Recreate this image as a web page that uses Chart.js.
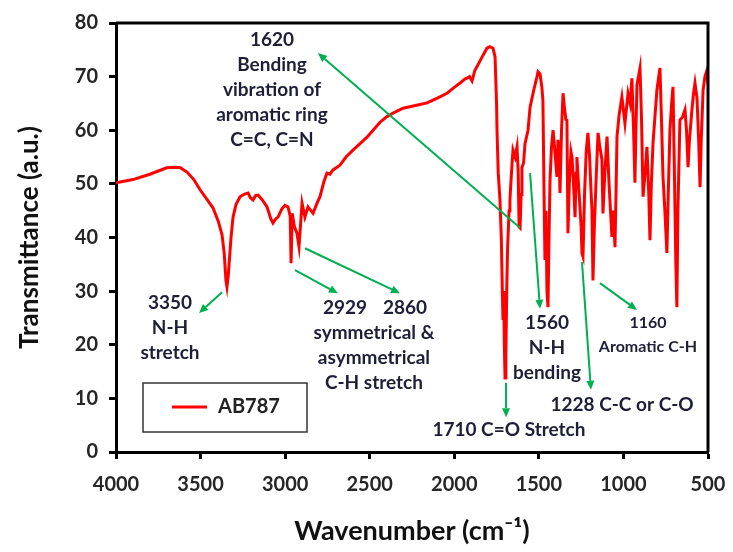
<!DOCTYPE html>
<html>
<head>
<meta charset="utf-8">
<script src="https://cdn.jsdelivr.net/npm/chart.js@4.4.1/dist/chart.umd.min.js"></script>
<style>
  html, body { margin: 0; padding: 0; background: #fff; }
</style>
</head>
<body>
<canvas id="ir" width="733" height="552"></canvas>
<script>
// FTIR spectrum of AB787
const seriesName = 'AB787';
const wavenumbers = [
  4000, 3900, 3800, 3700, 3650, 3620, 3580, 3540, 3503, 3460, 3426, 3395, 3373, 3360, 3350, 3344, 3336, 3320, 3308, 3290,
  3267, 3240, 3219, 3205, 3190, 3175, 3160, 3135, 3107, 3085, 3072, 3055, 3042, 3020, 3001, 2983, 2970, 2965, 2958, 2945,
  2930, 2918, 2900, 2883, 2865, 2835, 2810, 2794, 2770, 2753, 2735, 2717, 2676, 2640, 2599, 2557, 2516, 2480, 2439, 2400,
  2362, 2303, 2230, 2161, 2100, 2043, 2000, 1966, 1940, 1925, 1910, 1895, 1878, 1850, 1830, 1807, 1790, 1771, 1759, 1750,
  1747, 1740, 1730, 1722, 1716, 1712, 1708, 1704, 1700, 1695, 1690, 1685, 1676, 1671, 1662, 1653, 1640, 1629, 1622, 1617,
  1611, 1605, 1600, 1590, 1582, 1564, 1552, 1530, 1511, 1505, 1493, 1482, 1476, 1470, 1464, 1458, 1452, 1446, 1440, 1434,
  1425, 1416, 1405, 1393, 1387, 1381, 1375, 1366, 1357, 1348, 1340, 1334, 1328, 1320, 1310, 1304, 1295, 1286, 1280, 1275,
  1266, 1257, 1250, 1245, 1239, 1230, 1220, 1210, 1200, 1192, 1186, 1180, 1172, 1160, 1150, 1140, 1127, 1121, 1110, 1097,
  1085, 1068, 1060, 1050, 1044, 1038, 1025, 1009, 991, 973, 960, 950, 940, 932, 926, 920, 902, 893, 884, 872,
  861, 850, 843, 835, 825, 815, 802, 784, 775, 766, 755, 743, 735, 725, 715, 707, 700, 690, 684, 678,
  666, 650, 636, 627, 618, 610, 595, 585, 577, 565, 555, 547, 540, 529, 518, 506, 500
];
const transmittance = [
  50.2, 50.8, 51.8, 53.0, 53.1, 53.0, 52.2, 50.8, 48.9, 47.0, 45.5, 43.0, 40.5, 37.0, 32.0, 30.8, 33.0, 40.0, 43.8, 46.2,
  47.6, 48.1, 48.3, 47.4, 47.0, 47.8, 47.9, 47.0, 45.7, 43.5, 42.7, 43.5, 43.8, 45.3, 46.0, 45.7, 44.0, 35.2, 44.5, 42.0,
  40.8, 38.3, 46.4, 43.8, 45.7, 44.5, 46.5, 47.6, 50.5, 52.0, 51.8, 52.6, 53.5, 55.0, 56.3, 57.5, 58.7, 60.0, 61.5, 62.5,
  63.2, 64.1, 64.6, 65.1, 66.0, 66.9, 68.0, 68.8, 69.5, 69.7, 70.0, 69.2, 71.2, 72.8, 74.0, 75.3, 75.6, 75.3, 73.7, 65.0,
  59.5, 52.0, 47.0, 40.0, 30.0, 24.6, 30.0, 20.0, 13.8, 18.0, 30.0, 38.0, 45.0, 47.0, 52.0, 56.3, 55.0, 56.9, 52.0, 42.0,
  41.8, 48.0, 53.0, 54.0, 57.5, 60.0, 64.3, 67.5, 70.0, 70.9, 70.5, 68.0, 65.6, 50.0, 35.8, 45.0, 30.0, 27.0, 40.0, 50.7,
  57.0, 60.0, 56.0, 51.3, 58.2, 56.0, 48.3, 60.0, 66.9, 64.0, 62.0, 61.9, 40.8, 50.0, 56.0, 55.0, 50.0, 43.8, 52.0, 55.0,
  50.0, 45.7, 42.0, 37.0, 36.4, 48.0, 56.0, 59.5, 55.0, 49.0, 45.1, 32.0, 42.0, 52.0, 59.5, 57.0, 54.5, 44.5, 52.0, 58.8,
  50.0, 40.1, 45.0, 38.2, 48.0, 58.8, 63.0, 66.2, 61.3, 66.9, 65.0, 69.7, 60.0, 50.2, 60.0, 68.4, 71.6, 62.0, 47.6, 52.0,
  56.9, 48.0, 39.5, 50.0, 57.6, 62.0, 67.5, 71.6, 62.0, 51.3, 45.0, 37.1, 48.0, 60.0, 65.0, 68.1, 55.0, 35.0, 27.0, 45.0,
  61.9, 62.5, 63.8, 60.0, 53.1, 58.0, 63.8, 67.0, 68.8, 66.0, 58.0, 49.4, 58.0, 67.5, 70.0, 71.2, 68.5
];
const xTicks = [4000, 3500, 3000, 2500, 2000, 1500, 1000, 500];
const yTicks = [0, 10, 20, 30, 40, 50, 60, 70, 80];

// band assignments: text blocks (centre, first line) and arrows, in data units
const bandLabels = [
  { at: [3078, 76.8], lines: ['1620', 'Bending', 'vibration of', 'aromatic ring', 'C=C, C=N'] },
  { at: [3681, 27.8], lines: ['3350', 'N-H', 'stretch'] },
  { at: [2646, 26.9], lines: ['2929'] },
  { at: [2291, 26.9], lines: ['2860'] },
  { at: [2475, 22.2], lines: ['symmetrical &', 'asymmetrical', 'C-H stretch'] },
  { at: [1452, 24.1], lines: ['1560', 'N-H', 'bending'] },
  { at: [1677, 4.1], lines: ['1710 C=O Stretch'] },
  { at: [1008, 8.8], lines: ['1228 C-C or C-O'] },
  { at: [855, 24.1], lines: ['1160', 'Aromatic C-H'], small: true }
];
const bandArrows = [
  { from: [1612, 41.8], to: [2806, 74.4] },
  { from: [3373, 29.8], to: [3509, 25.9] },
  { from: [2942, 33.9], to: [2688, 29.6] },
  { from: [2883, 38.0], to: [2321, 29.6] },
  { from: [1552, 52.0], to: [1493, 26.7] },
  { from: [1694, 12.9], to: [1694, 6.5] },
  { from: [1245, 35.4], to: [1192, 11.6] },
  { from: [1139, 31.5], to: [920, 26.5] }
];

const FONT = 'Lato, "Open Sans", sans-serif';

const frame = {
  id: 'frame',
  afterDatasetsDraw(chart) {
    const { ctx, chartArea: a } = chart;
    ctx.save();
    ctx.strokeStyle = '#000';
    ctx.lineWidth = 3;
    ctx.beginPath();
    ctx.moveTo(a.left, a.top);
    ctx.lineTo(a.right, a.top);
    ctx.lineTo(a.right, a.bottom);
    ctx.stroke();
    ctx.restore();
  }
};

const bands = {
  id: 'bands',
  afterDraw(chart) {
    const { ctx, scales: { x, y } } = chart;
    ctx.save();
    // arrows
    ctx.strokeStyle = '#00B050';
    ctx.fillStyle = '#00B050';
    ctx.lineWidth = 2;
    bandArrows.forEach(a => {
      const x0 = x.getPixelForValue(a.from[0]), y0 = y.getPixelForValue(a.from[1]);
      const x1 = x.getPixelForValue(a.to[0]), y1 = y.getPixelForValue(a.to[1]);
      const ang = Math.atan2(y1 - y0, x1 - x0);
      const hl = 9, hw = 4;
      ctx.beginPath();
      ctx.moveTo(x0, y0);
      ctx.lineTo(x1 - hl * Math.cos(ang), y1 - hl * Math.sin(ang));
      ctx.stroke();
      ctx.beginPath();
      ctx.moveTo(x1, y1);
      ctx.lineTo(x1 - hl * Math.cos(ang) + hw * Math.sin(ang), y1 - hl * Math.sin(ang) - hw * Math.cos(ang));
      ctx.lineTo(x1 - hl * Math.cos(ang) - hw * Math.sin(ang), y1 - hl * Math.sin(ang) + hw * Math.cos(ang));
      ctx.closePath();
      ctx.fill();
    });
    // texts
    ctx.fillStyle = '#1e1e38';
    ctx.textAlign = 'center';
    ctx.textBaseline = 'middle';
    bandLabels.forEach(b => {
      const cx = x.getPixelForValue(b.at[0]);
      const cy = y.getPixelForValue(b.at[1]);
      ctx.font = (b.small ? 'bold 16px ' : 'bold 19px ') + FONT;
      const step = b.small ? 24 : 25;
      b.lines.forEach((t, i) => ctx.fillText(t, cx, cy + i * step));
    });
    ctx.restore();
  }
};

const boxLegend = {
  id: 'boxLegend',
  afterDraw(chart) {
    const { ctx, chartArea: a } = chart;
    const ds = chart.data.datasets[0];
    const l = a.left + 27, t = a.bottom - 69, w = 164, h = 49;
    ctx.save();
    ctx.fillStyle = '#fff';
    ctx.fillRect(l, t, w, h);
    ctx.strokeStyle = '#333';
    ctx.lineWidth = 1.5;
    ctx.strokeRect(l, t, w, h);
    ctx.strokeStyle = ds.borderColor;
    ctx.lineWidth = 3;
    ctx.beginPath();
    ctx.moveTo(l + 29, t + 24);
    ctx.lineTo(l + 64, t + 24);
    ctx.stroke();
    ctx.fillStyle = '#222';
    ctx.font = 'bold 20px ' + FONT;
    ctx.textBaseline = 'middle';
    ctx.fillText(ds.label, l + 75, t + 24);
    ctx.restore();
  }
};

new Chart(document.getElementById('ir'), {
  type: 'line',
  data: {
    datasets: [{
      label: seriesName,
      data: wavenumbers.map((w, i) => ({ x: w, y: transmittance[i] })),
      borderColor: '#FF0000',
      borderWidth: 3,
      pointRadius: 0,
      tension: 0,
      fill: false
    }]
  },
  options: {
    responsive: false,
    animation: false,
    layout: { padding: { top: 23, right: 25, left: 0, bottom: 0 } },
    plugins: { legend: { display: false }, tooltip: { enabled: false } },
    scales: {
      x: {
        type: 'linear',
        reverse: true,
        min: xTicks[xTicks.length - 1],
        max: xTicks[0],
        afterBuildTicks: s => { s.ticks = xTicks.map(v => ({ value: v })); },
        afterFit: s => { s.height = 100; s.paddingLeft = 0; s.paddingRight = 0; },
        border: { color: '#000', width: 3 },
        grid: { drawOnChartArea: false, drawTicks: true, tickLength: 7, tickWidth: 3, tickColor: '#000' },
        ticks: { color: '#262626', font: { family: FONT, size: 20, weight: 'bold' }, padding: 14, maxRotation: 0, callback: v => String(v) },
        title: { display: true, text: 'Wavenumber (cm⁻¹)', color: '#111', font: { family: FONT, size: 27, weight: 'bold' }, padding: { bottom: 5 } }
      },
      y: {
        min: yTicks[0],
        max: yTicks[yTicks.length - 1],
        afterBuildTicks: s => { s.ticks = yTicks.map(v => ({ value: v })); },
        afterFit: s => { s.width = 116; s.paddingTop = 0; s.paddingBottom = 0; },
        border: { color: '#000', width: 3 },
        grid: { drawOnChartArea: false, drawTicks: true, tickLength: 7, tickWidth: 3, tickColor: '#000' },
        ticks: { color: '#262626', font: { family: FONT, size: 20, weight: 'bold' }, padding: 11, callback: v => String(v) },
        title: { display: true, text: 'Transmittance (a.u.)', color: '#111', font: { family: FONT, size: 26, weight: 'bold' }, padding: { top: 14 } }
      }
    }
  },
  plugins: [frame, bands, boxLegend]
});
</script>
</body>
</html>
